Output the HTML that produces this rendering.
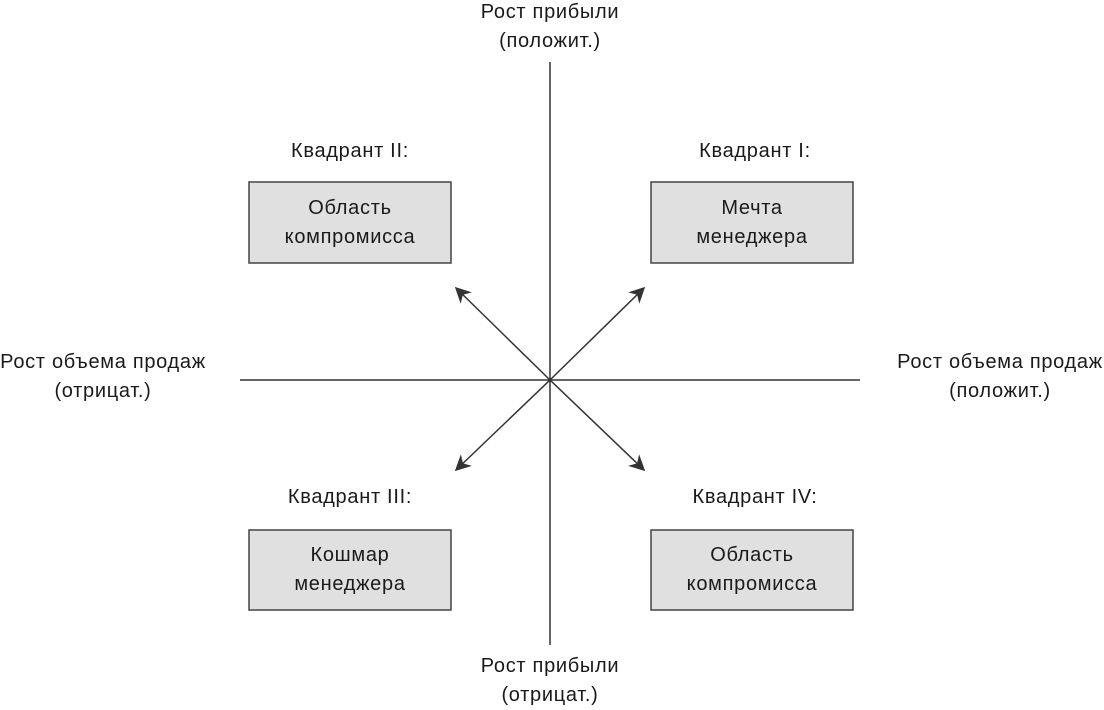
<!DOCTYPE html>
<html><head><meta charset="utf-8"><style>
body{margin:0;width:1104px;height:705px;background:#fff;overflow:hidden}
svg text{font-family:"Liberation Sans","DejaVu Sans",sans-serif;font-size:20px;letter-spacing:0.7px;fill:#1a1a1a;text-anchor:middle}
</style></head><body>
<svg width="1104" height="705" viewBox="0 0 1104 705">
<defs><marker id="a" viewBox="0 0 10 10" refX="9" refY="5" markerWidth="16" markerHeight="16" markerUnits="userSpaceOnUse" orient="auto"><path d="M0,0 L10,5 L0,10 L3,5 z" fill="#333"/></marker></defs>
<g stroke="#333" stroke-width="1.5">
<line x1="550" y1="62" x2="550" y2="645"/>
<line x1="240" y1="380" x2="860" y2="380"/>
<line x1="550" y1="380" x2="456" y2="288" marker-end="url(#a)"/>
<line x1="550" y1="380" x2="644" y2="288" marker-end="url(#a)"/>
<line x1="550" y1="380" x2="456" y2="470" marker-end="url(#a)"/>
<line x1="550" y1="380" x2="644" y2="470" marker-end="url(#a)"/>
</g>
<g fill="#e0e0e0" stroke="#444" stroke-width="1.5">
<rect x="249" y="182" width="202" height="81"/>
<rect x="651" y="182" width="202" height="81"/>
<rect x="249" y="530" width="202" height="80"/>
<rect x="651" y="530" width="202" height="80"/>
</g>
<text x="550" y="18">Рост прибыли</text>
<text x="550" y="47">(положит.)</text>
<text x="550" y="672">Рост прибыли</text>
<text x="550" y="701">(отрицат.)</text>
<text x="103" y="368">Рост объема продаж</text>
<text x="103" y="397">(отрицат.)</text>
<text x="1000" y="368">Рост объема продаж</text>
<text x="1000" y="397">(положит.)</text>
<text x="350" y="157">Квадрант II:</text>
<text x="755" y="157">Квадрант I:</text>
<text x="350" y="503">Квадрант III:</text>
<text x="755" y="503">Квадрант IV:</text>
<text x="350" y="214">Область</text>
<text x="350" y="243">компромисса</text>
<text x="752" y="214">Мечта</text>
<text x="752" y="243">менеджера</text>
<text x="350" y="561">Кошмар</text>
<text x="350" y="590">менеджера</text>
<text x="752" y="561">Область</text>
<text x="752" y="590">компромисса</text>
</svg>
</body></html>
